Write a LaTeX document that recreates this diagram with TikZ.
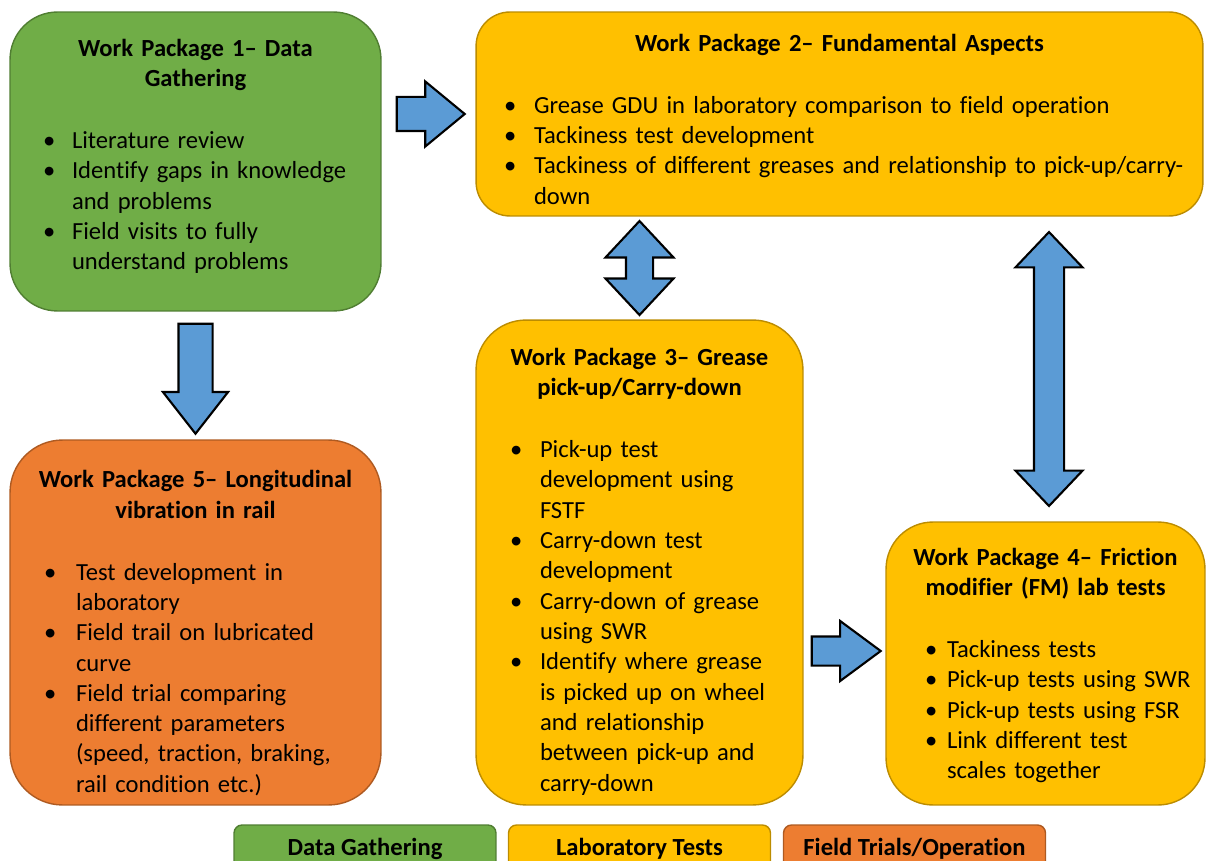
\documentclass[tikz,border=0pt]{standalone}
\usepackage{fontspec}
\setmainfont{Carlito}[Ligatures={TeX,NoCommon}]
\usetikzlibrary{shapes.arrows,calc,positioning}

\definecolor{wpgreen}{HTML}{70AD47}
\definecolor{wpgreenline}{HTML}{507E32}
\definecolor{wpyellow}{HTML}{FFC000}
\definecolor{wpyellowline}{HTML}{BC8C00}
\definecolor{wporange}{HTML}{ED7D31}
\definecolor{wporangeline}{HTML}{AE5A21}
\definecolor{wpblue}{HTML}{5B9BD5}

% bullet list inside the package boxes
\newlength\wpbul
\newlength\wpind
\newcommand\wpset[2]{\setlength\wpbul{#1}\setlength\wpind{#2}}
\newcommand\wpitem{\par\noindent\hangindent=\wpind\hangafter=1%
  \makebox[\wpind][l]{\hspace*{\wpbul}\textbullet}\ignorespaces}
\newcommand\wptitle[1]{{\centering\bfseries\strut #1\par}\vspace{1.05\baselineskip}}

\tikzset{
  wpbox/.style={rectangle, line width=0.8pt, inner sep=0pt},
  wptext/.style={inner sep=0pt, text width=#1, align=left, anchor=north,
    font=\fontsize{14}{17.25}\selectfont},
  legbox/.style={rectangle, rounded corners=0.16cm, line width=0.8pt,
    minimum width=5.24cm, minimum height=0.96cm, inner sep=0pt,
    font=\fontsize{14}{17.25}\selectfont\bfseries},
  blockarrow/.style={single arrow, draw=black, fill=wpblue, line width=1.2pt,
    inner xsep=0pt, anchor=tail},
  dblarrow/.style={double arrow, draw=black, fill=wpblue, line width=1.2pt,
    inner xsep=0pt}
}

\begin{document}
\begin{tikzpicture}[x=0.02cm, y=-0.02cm]
\useasboundingbox (0,0) rectangle (1206,861);

% work package boxes
\node[wpbox, fill=wpgreen, draw=wpgreenline, minimum width=7.42cm,
  minimum height=5.98cm, rounded corners=0.95cm] (wp1) at (195.5,161.5) {};
\node[wpbox, fill=wpyellow, draw=wpyellowline, minimum width=14.54cm,
  minimum height=4.08cm, rounded corners=0.68cm] (wp2) at (839.5,114) {};
\node[wpbox, fill=wpyellow, draw=wpyellowline, minimum width=6.54cm,
  minimum height=9.7cm, rounded corners=1cm] (wp3) at (639.5,562.5) {};
\node[wpbox, fill=wpyellow, draw=wpyellowline, minimum width=6.38cm,
  minimum height=5.66cm, rounded corners=0.94cm] (wp4) at (1045.5,663.5) {};
\node[wpbox, fill=wporange, draw=wporangeline, minimum width=7.42cm,
  minimum height=7.3cm, rounded corners=1.05cm] (wp5) at (195.5,622.5) {};

% box contents
\node[wptext=7.42cm, yshift=-0.466cm] (wp1txt) at (wp1.north) {\wpset{0.66cm}{1.24cm}%
  \wptitle{Work Package 1-- Data\\Gathering}
  \wpitem Literature review
  \wpitem Identify gaps in knowledge\newline and problems
  \wpitem Field visits to fully\newline understand problems\par};

\node[wptext=14.54cm, yshift=-0.366cm] (wp2txt) at (wp2.north) {\wpset{0.56cm}{1.16cm}%
  \wptitle{Work Package 2-- Fundamental Aspects}
  \wpitem Grease GDU in laboratory comparison to field operation
  \wpitem Tackiness test development
  \wpitem Tackiness of different greases and relationship to pick-up/carry-\newline down\par};

\node[wptext=6.54cm, yshift=-0.486cm] (wp3txt) at (wp3.north) {\wpset{0.68cm}{1.28cm}%
  \wptitle{Work Package 3-- Grease\\pick-up/Carry-down}
  \wpitem Pick-up test\newline development using\newline FSTF
  \wpitem Carry-down test\newline development
  \wpitem Carry-down of grease\newline using SWR
  \wpitem Identify where grease\newline is picked up on wheel\newline and relationship\newline
    between pick-up and\newline carry-down\par};

\node[wptext=6.38cm, yshift=-0.446cm] (wp4txt) at (wp4.north) {\wpset{0.78cm}{1.22cm}%
  \wptitle{Work Package 4-- Friction\\modifier (FM) lab tests}
  \wpitem Tackiness tests
  \wpitem Pick-up tests using SWR
  \wpitem Pick-up tests using FSR
  \wpitem Link different test\newline scales together\par};

\node[wptext=7.42cm, yshift=-0.536cm] (wp5txt) at (wp5.north) {\wpset{0.68cm}{1.32cm}%
  \wptitle{Work Package 5-- Longitudinal\\vibration in rail}
  \wpitem Test development in\newline laboratory
  \wpitem Field trail on lubricated\newline curve
  \wpitem Field trial comparing\newline different parameters\newline
    (speed, traction, braking,\newline rail condition etc.)\par};

% block arrows between packages
\node[blockarrow, minimum height=1.36cm, minimum width=1.26cm, inner ysep=0.32cm,
  single arrow head extend=0.31cm, single arrow tip angle=79]
  (arr12) at ($(wp1.east |- wp2.west)+(14,0)$) {};
\node[blockarrow, rotate=-90, minimum height=2.2cm, minimum width=1.26cm, inner ysep=0.32cm,
  single arrow head extend=0.31cm, single arrow tip angle=76]
  (arr15) at ($(wp1.south)+(0,11)$) {};
\node[blockarrow, minimum height=1.38cm, minimum width=1.16cm, inner ysep=0.27cm,
  single arrow head extend=0.31cm, single arrow tip angle=73]
  (arr34) at ($(wp3.east |- 0,651)+(7,0)$) {};
\node[dblarrow, rotate=90, minimum height=1.88cm, minimum width=1.32cm, inner ysep=0.25cm,
  double arrow head extend=0.41cm, double arrow tip angle=86]
  (arr23) at ($(wp2.south -| wp3.north)!0.5!(wp3.north)$) {};
\node[dblarrow, rotate=90, minimum height=5.48cm, minimum width=1.3cm, inner ysep=0.28cm,
  double arrow head extend=0.37cm, double arrow tip angle=87]
  (arr24) at ($(wp2.south -| 1049,0)!0.5!(wp4.north -| 1049,0)$) {};

% legend
\node[legbox, fill=wpgreen, draw=wpgreenline] (leggather) at (365,849) {Data Gathering};
\node[legbox, fill=wpyellow, draw=wpyellowline] (leglab) at (639.5,849) {Laboratory Tests};
\node[legbox, fill=wporange, draw=wporangeline] (legfield) at (914.5,849) {Field Trials/Operation};
\end{tikzpicture}
\end{document}
